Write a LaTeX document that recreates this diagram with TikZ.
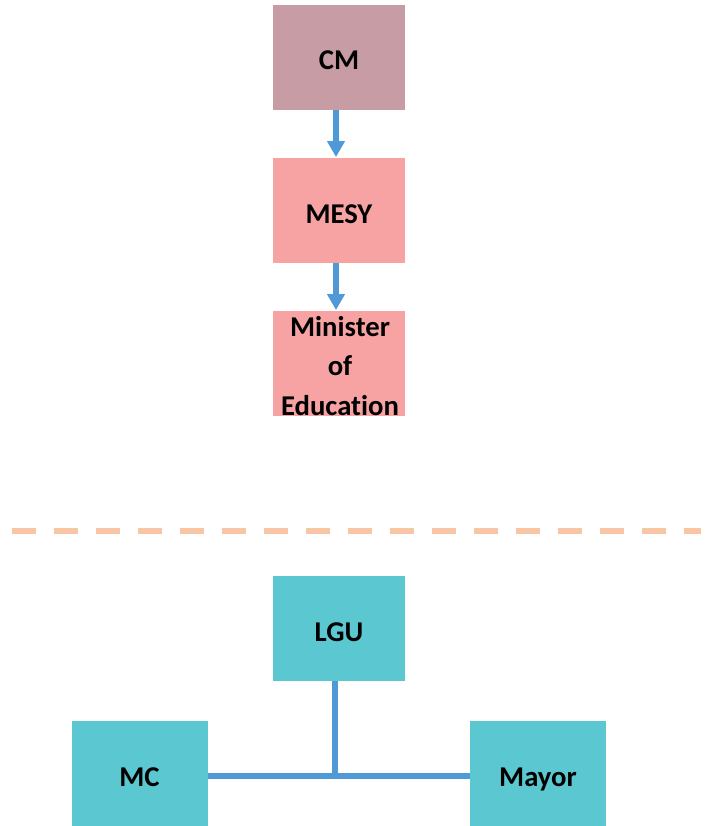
\documentclass[tikz,border=0pt]{standalone}
\usepackage{fontspec}
\setmainfont{Carlito}[Ligatures=NoCommon]
\usetikzlibrary{arrows.meta}
\definecolor{cmfill}{HTML}{C79CA5}
\definecolor{pinkfill}{HTML}{F7A3A3}
\definecolor{tealfill}{HTML}{5BC7D1}
\definecolor{linkblue}{HTML}{4F9AD6}
\definecolor{dashpeach}{HTML}{F8C5A5}
\tikzset{
  box/.style={draw=none, minimum width=99pt, minimum height=78.75pt, inner sep=0pt,
    font=\fontsize{21.5}{29.5}\selectfont\bfseries, align=center, text=black},
  wbox/.style={box, minimum width=102pt},
  lowtext/.style={text height=19pt, text depth=0pt},
  flow/.style={draw=linkblue, line width=4.5pt,
    -{Triangle[width=12.75pt,length=12pt]}, shorten >=0.5pt},
  link/.style={draw=linkblue, line width=3.8pt},
  divider/.style={draw=dashpeach, line width=4.5pt, dash pattern=on 18pt off 13.5pt}
}
\begin{document}
\begin{tikzpicture}[x=0.75pt, y=-0.75pt]
  \useasboundingbox (0,0) rectangle (720,826);
  % upper chain
  \node[box, lowtext, fill=cmfill] (cm) at (339,57) {CM};
  \node[box, lowtext, fill=pinkfill] (mesy) at (339,210.5) {MESY};
  \node[box, fill=pinkfill] (moe) at (339,363.5) {};
  \node[box, fill=none, minimum height=0pt] (moetext) at (340,366) {Minister\\of\\Education};
  \draw[flow] (cm.south -| 336,0) -- (mesy.north -| 336,0);
  \draw[flow] (mesy.south -| 336,0) -- (moe.north -| 336,0);
  % separator
  \coordinate (dl) at (11.5,531);
  \coordinate (dr) at (701,531);
  \draw[divider] (dl) -- (dr);
  % lower group
  \node[box, lowtext, fill=tealfill] (lgu) at (339,628.5) {LGU};
  \node[wbox, lowtext, fill=tealfill] (mc) at (139.5,773.5) {MC};
  \node[wbox, lowtext, fill=tealfill] (mayor) at (538,773.5) {Mayor};
  \coordinate (tee) at (335,776);
  \draw[link] (mc.east |- tee) -- (mayor.west |- tee);
  \draw[link] (lgu.south -| tee) -- (tee);
\end{tikzpicture}
\end{document}
